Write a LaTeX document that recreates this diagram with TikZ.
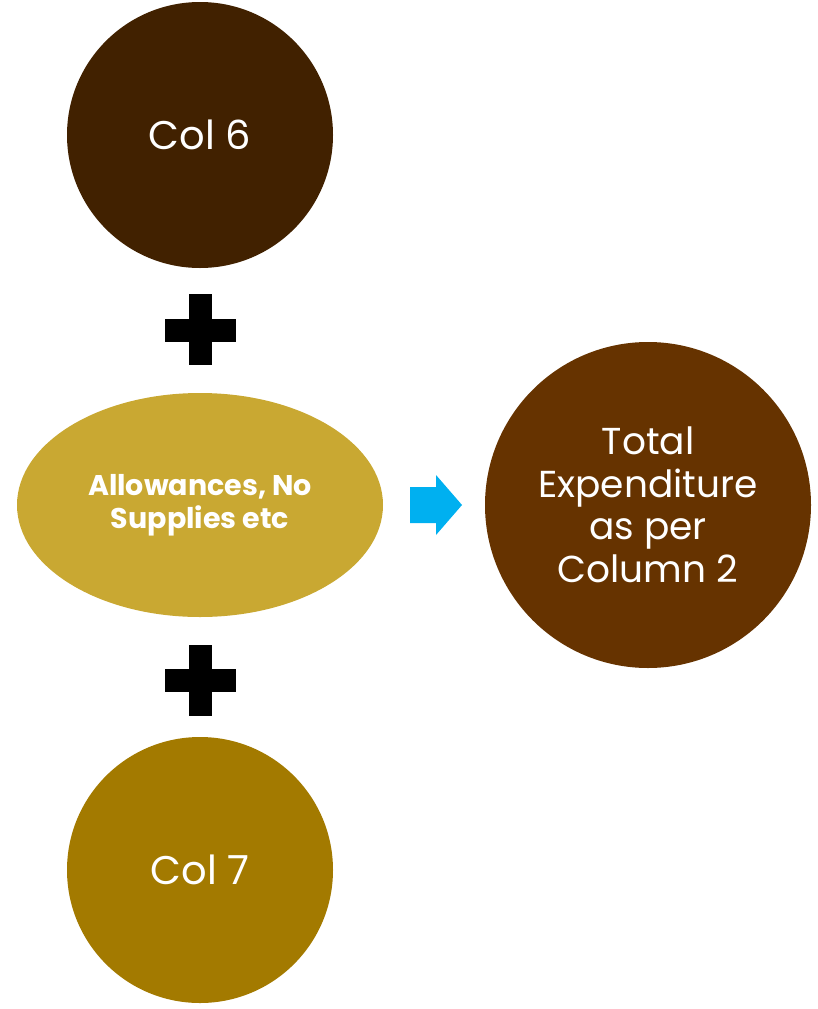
\documentclass[tikz,border=0pt]{standalone}
\usepackage{fontspec}
\setmainfont{Poppins}
\usetikzlibrary{shapes.geometric}
\definecolor{cA}{HTML}{412100}
\definecolor{cB}{HTML}{C9A832}
\definecolor{cC}{HTML}{663300}
\definecolor{cD}{HTML}{A37A00}
\definecolor{cArrow}{HTML}{00B0F0}
\begin{document}
\begin{tikzpicture}[x=1pt,y=-1pt,
  circ/.style={circle,inner sep=0pt,text=white,align=center},
  plus/.style={fill=black}]
\useasboundingbox (0,0) rectangle (818,1009);
\node[circ,fill=cA,minimum size=266pt,font=\fontsize{40}{46}\selectfont] (c6) at (200,135) {Col 6};
\node[circ,fill=cD,minimum size=266pt,font=\fontsize{40}{46}\selectfont] (c7) at (200,870) {Col 7};
\node[ellipse,fill=cB,minimum width=366pt,minimum height=224pt,inner sep=0pt,text=white,align=center,font=\bfseries\fontsize{28.5}{33}\selectfont] (el) at (200,505) {Allowances, No\\Supplies etc};
\node[circ,fill=cC,minimum size=326pt,font=\fontsize{37.5}{42.5}\selectfont] (tot) at (648,505) {Total\\Expenditure\\as per\\Column 2};
% plus signs
\fill[plus] (189,294) rectangle (211.5,365);
\fill[plus] (165,318.5) rectangle (235.5,341.5);
\fill[plus] (189,645) rectangle (211.5,716);
\fill[plus] (165,669) rectangle (235.5,692);
% arrow
\fill[cArrow] (410,487) -- (436,487) -- (436,475) -- (462,505) -- (436,535) -- (436,523) -- (410,523) -- cycle;
\end{tikzpicture}
\end{document}
